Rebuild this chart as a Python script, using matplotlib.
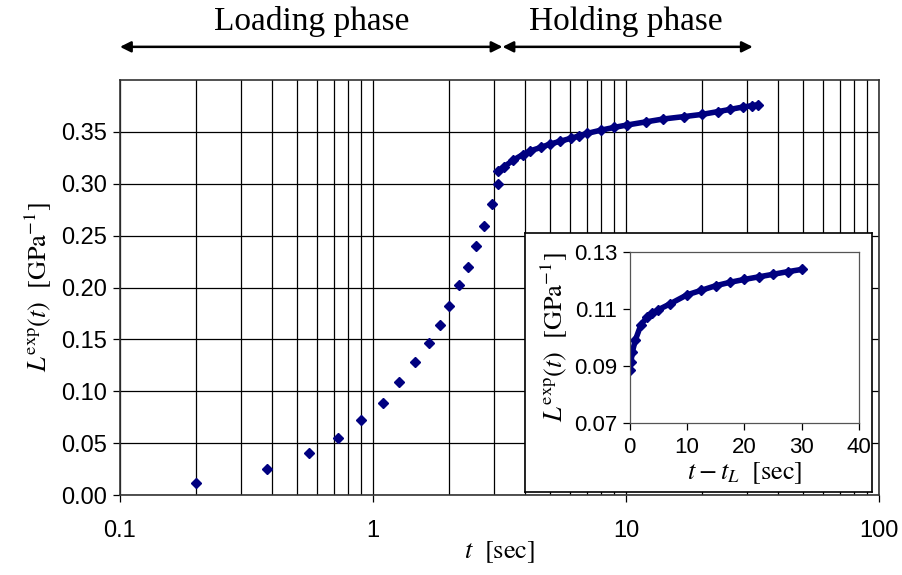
import matplotlib
matplotlib.use("Agg")
from matplotlib import pyplot as plt
from matplotlib.ticker import LogLocator, FixedLocator, NullFormatter

plt.rcParams['mathtext.fontset'] = 'stix'

# loading phase (main plot)
t_load = [0.20, 0.38, 0.56, 0.73, 0.90, 1.10, 1.27, 1.46, 1.66, 1.84, 2.00,
          2.18, 2.38, 2.55, 2.75, 2.95, 3.12]
L_load = [0.012, 0.025, 0.0405, 0.0552, 0.072, 0.0887, 0.1086, 0.1279, 0.1462,
          0.1641, 0.1825, 0.2021, 0.2200, 0.2397, 0.2593, 0.2808, 0.3000]

# holding phase (main plot)
t_hold = [3.12, 3.30, 3.59, 3.90, 4.17, 4.60, 5.01, 5.50, 6.04, 6.50, 7.03,
          8.00, 9.00, 10.07, 12.0, 14.0, 17.0, 20.0, 23.0, 25.8, 29.0, 31.5, 33.3]
L_hold = [0.3123, 0.3165, 0.3229, 0.3280, 0.3316, 0.3350, 0.3383, 0.3410,
          0.3438, 0.3460, 0.3486, 0.3518, 0.3544, 0.3566, 0.3597, 0.3624,
          0.3648, 0.3669, 0.3695, 0.3717, 0.3740, 0.3753, 0.3762]

# inset: holding phase vs t - t_L
t_ins = [0.0, 0.25, 0.5, 1.0, 2.0, 3.0, 4.0, 5.0, 7.0, 10.0, 12.5, 15.0,
         17.5, 20.0, 22.5, 25.0, 27.5, 30.0]
L_ins = [0.0886, 0.0915, 0.0950, 0.0990, 0.1045, 0.1070, 0.1085, 0.1097,
         0.1117, 0.1149, 0.1165, 0.1181, 0.1193, 0.1203, 0.1212, 0.1221,
         0.1230, 0.1238]

yticks_main = [0.00, 0.05, 0.10, 0.15, 0.20, 0.25, 0.30, 0.35]
yticks_ins = [0.07, 0.09, 0.11, 0.13]
xticks_ins = [0, 10, 20, 30, 40]

navy = '#000080'
serif = ['Liberation Serif', 'DejaVu Serif']
sans = ['Liberation Sans', 'DejaVu Sans']

fig = plt.figure(figsize=(9.02, 5.75), dpi=100)
ax = fig.add_axes([0.1330, 0.1391, 0.8415, 0.7217])

ax.set_xscale('log')
ax.set_xlim(0.1, 100)
ax.set_ylim(0, 0.40)
ax.xaxis.set_major_locator(FixedLocator([0.1, 1, 10, 100]))
ax.set_xticklabels(['0.1', '1', '10', '100'])
ax.xaxis.set_minor_locator(LogLocator(base=10, subs=range(2, 10)))
ax.xaxis.set_minor_formatter(NullFormatter())
ax.set_yticks(yticks_main)
ax.set_yticklabels([f'{v:.2f}' for v in yticks_main])
ax.grid(True, which='major', color='black', linewidth=0.9)
ax.grid(True, which='minor', axis='x', color='black', linewidth=0.9)
ax.tick_params(which='major', direction='out', length=5, width=0.9,
               labelsize=17)
ax.tick_params(axis='x', pad=13)
ax.tick_params(axis='y', pad=4)
ax.tick_params(which='minor', length=0)
for lab in ax.get_xticklabels() + ax.get_yticklabels():
    lab.set_family(sans)
for s in ax.spines.values():
    s.set_color('#333333')
    s.set_linewidth(1.2)

ax.plot(t_load, L_load, linestyle='none', marker='D', markersize=5.2,
        color=navy, zorder=3)
ax.plot(t_hold, L_hold, color=navy, linewidth=4, solid_capstyle='round',
        marker='D', markersize=5.2, zorder=3)

ax.set_xlabel(r'$t\ \ [\mathrm{sec}]$', fontsize=19, labelpad=-2)
ax.set_ylabel(r'$L^{\mathrm{exp}}(t)\ \ [\mathrm{GPa}^{-1}]$', fontsize=19,
              labelpad=6)

# phase arrows above the plot
trans = ('data', 'axes fraction')
ax.annotate('', xy=(3.25, 1.08), xytext=(0.1, 1.08), xycoords=trans,
            textcoords=trans, annotation_clip=False,
            arrowprops=dict(arrowstyle='<|-|>', color='black', lw=1.8,
                            mutation_scale=16, shrinkA=0, shrinkB=0))
ax.annotate('', xy=(31.7, 1.08), xytext=(3.25, 1.08), xycoords=trans,
            textcoords=trans, annotation_clip=False,
            arrowprops=dict(arrowstyle='<|-|>', color='black', lw=1.8,
                            mutation_scale=16, shrinkA=0, shrinkB=0))
ax.text(0.57, 1.14, 'Loading phase', transform=ax.get_xaxis_transform(),
        ha='center', va='center', fontsize=24, family=serif)
ax.text(10.0, 1.14, 'Holding phase', transform=ax.get_xaxis_transform(),
        ha='center', va='center', fontsize=24, family=serif)

# inset frame
frame = fig.add_axes([0.5820, 0.1443, 0.3847, 0.4513])
frame.set_xticks([])
frame.set_yticks([])
frame.set_facecolor('white')
for s in frame.spines.values():
    s.set_color('black')
    s.set_linewidth(1.2)

ins = fig.add_axes([0.6979, 0.2638, 0.2548, 0.2985])
ins.plot(t_ins, L_ins, color=navy, linewidth=4, solid_capstyle='round',
         marker='D', markersize=5.2)
ins.set_xlim(0, 40)
ins.set_ylim(0.07, 0.13)
ins.set_xticks(xticks_ins)
ins.set_xticklabels([str(v) for v in xticks_ins])
ins.set_yticks(yticks_ins)
ins.set_yticklabels([f'{v:.2f}' for v in yticks_ins])
ins.tick_params(direction='out', length=5, width=0.9, labelsize=16)
ins.tick_params(axis='x', pad=5)
ins.tick_params(axis='y', pad=4)
for lab in ins.get_xticklabels() + ins.get_yticklabels():
    lab.set_family(sans)
for s in ins.spines.values():
    s.set_color('#555555')
    s.set_linewidth(0.9)
ins.set_xlabel(r'$t - t_L\ \ [\mathrm{sec}]$', fontsize=19, labelpad=1)
ins.set_ylabel(r'$L^{\mathrm{exp}}(t)\ \ [\mathrm{GPa}^{-1}]$', fontsize=19,
               labelpad=3)

fig.savefig('out.png', dpi=100)
